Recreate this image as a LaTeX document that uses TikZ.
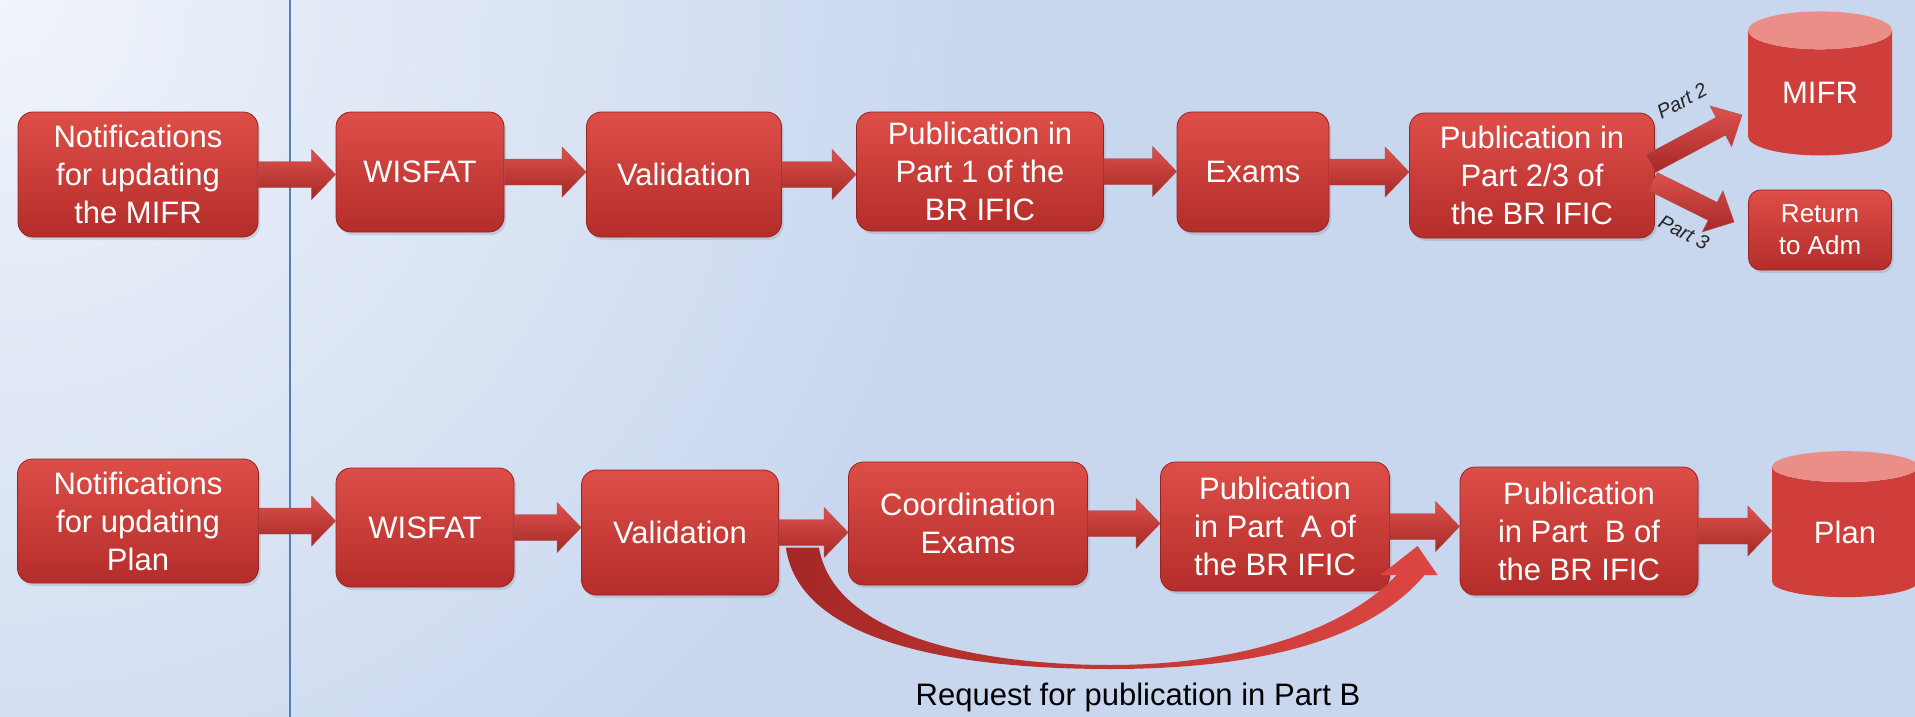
\documentclass[tikz,border=0pt]{standalone}
\usepackage{fontspec}
\setmainfont{Liberation Sans}
\usetikzlibrary{calc,shapes.geometric,shadows}
\definecolor{boxtop}{RGB}{222, 78, 72}
\definecolor{boxbottom}{RGB}{180, 45, 42}
\definecolor{boxline}{RGB}{150, 36, 34}
\definecolor{cylbody}{RGB}{207, 62, 58}
\definecolor{cyltop}{RGB}{236, 142, 136}
\definecolor{arrowtop}{RGB}{222, 82, 76}
\definecolor{arrowbottom}{RGB}{165, 40, 38}
\definecolor{curvedark}{RGB}{165, 40, 38}
\definecolor{curvelight}{RGB}{220, 70, 66}
\definecolor{bgcorner}{RGB}{240, 244, 251}
\definecolor{bgmid}{RGB}{200, 214, 238}
\definecolor{bglow}{RGB}{213, 223, 241}
\definecolor{divider}{RGB}{79, 129, 189}

\pgfdeclareradialshading{bgglow}{\pgfpoint{0bp}{0bp}}{color(0bp)=(bgcorner); color(12bp)=(bgmid); color(30bp)=(bgmid); color(50bp)=(bglow)}

% fat block arrow: shaft half width, head half width, from, to
\newcommand{\blockarrow}[4]{%
  \coordinate (ba-s) at (#3);
  \coordinate (ba-e) at (#4);
  \coordinate (ba-h) at ($(ba-e)!24pt!(ba-s)$);
  \shade[arrowshade] ($(ba-s)!#1pt!90:(ba-e)$) -- ($(ba-h)!#1pt!90:(ba-e)$)
       -- ($(ba-h)!#2pt!90:(ba-e)$) -- (ba-e) -- ($(ba-h)!#2pt!-90:(ba-e)$)
       -- ($(ba-h)!#1pt!-90:(ba-e)$) -- ($(ba-s)!#1pt!-90:(ba-e)$) -- cycle;
}

\begin{document}
\begin{tikzpicture}[x=1pt, y=-1pt,
    procbox/.style={rectangle, rounded corners=15pt, draw=boxline, line width=0.8pt,
                    top color=boxtop, bottom color=boxbottom, text=white, align=center,
                    inner sep=0pt, font=\fontsize{31}{38}\selectfont,
                    drop shadow={shadow xshift=2pt, shadow yshift=-3pt, opacity=0.25}},
    smallbox/.style={procbox, rounded corners=12pt, font=\fontsize{26}{32}\selectfont},
    store/.style={cylinder, shape border rotate=90, aspect=0.5, draw=none,
                  cylinder uses custom fill, cylinder body fill=cylbody,
                  cylinder end fill=cyltop, text=white, inner sep=0pt,
                  minimum width=144, minimum height=144,
                  font=\fontsize{31}{38}\selectfont},
    arrowshade/.style={top color=arrowtop, bottom color=arrowbottom, draw=boxline!80, line width=0.4pt},
    partlabel/.style={font=\itshape\fontsize{20}{24}\selectfont, text=black!85}]

    \useasboundingbox (0,0) rectangle (1915,717);
    \begin{scope}
      \clip (0,0) rectangle (1915,717);
      \shade[shading=bgglow] (0,0) circle (2100);
    \end{scope}
    \draw[divider, line width=1.6pt] (290,0) -- (290,717);

    % MIFR row
    \node[procbox, minimum width=240, minimum height=125] (n1)  at ( 138,174.5) {Notifications\\for updating\\the MIFR};
    \node[procbox, minimum width=168, minimum height=120] (w1)  at ( 420,172.0) {WISFAT};
    \node[procbox, minimum width=195, minimum height=125] (v1)  at ( 684,174.5) {Validation};
    \node[procbox, minimum width=247, minimum height=119] (p1)  at ( 980,171.5) {Publication in\\Part 1 of the\\BR IFIC};
    \node[procbox, minimum width=152, minimum height=120] (e1)  at (1253,172.0) {Exams};
    \node[procbox, minimum width=245, minimum height=125] (p23) at (1532,175.5) {Publication in\\Part 2/3 of\\the BR IFIC};
    \node[store] (mifr) at (1820,93) {MIFR};
    \node[smallbox, minimum width=143, minimum height=80] (ret) at (1820,230) {Return\\to Adm};

    % Plan row
    \node[procbox, minimum width=241, minimum height=124] (n2) at ( 138,521.0) {Notifications\\for updating\\Plan};
    \node[procbox, minimum width=178, minimum height=119] (w2) at ( 425,527.5) {WISFAT};
    \node[procbox, minimum width=197, minimum height=125] (v2) at ( 680,532.5) {Validation};
    \node[procbox, minimum width=239, minimum height=123] (c2) at ( 968,523.5) {Coordination\\Exams};
    \node[procbox, minimum width=229, minimum height=129] (pA) at (1275,526.5) {Publication\\in Part\ \ A of\\the BR IFIC};
    \node[procbox, minimum width=238, minimum height=128] (pB) at (1579,531.0) {Publication\\in Part\ \ B of\\the BR IFIC};
    \node[store, minimum height=146, minimum width=146] (plan) at (1845,532) {Plan};

    \blockarrow{13}{25}{n1.east}{w1.west |- n1.east}
    \blockarrow{13}{25}{w1.east}{v1.west |- w1.east}
    \blockarrow{13}{25}{v1.east}{p1.west |- v1.east}
    \blockarrow{13}{25}{p1.east}{e1.west |- p1.east}
    \blockarrow{13}{25}{e1.east}{p23.west |- e1.east}
    \blockarrow{10}{23}{$(p23.east)+(-4,-12)$}{$(mifr.center)+(-78,22)$}
    \blockarrow{10}{23}{$(p23.east)+(-2,6)$}{$(ret.west)+(-14,-8)$}

    \blockarrow{13}{25}{n2.east}{w2.west |- n2.east}
    \blockarrow{13}{25}{w2.east}{v2.west |- w2.east}
    \blockarrow{13}{25}{v2.east}{c2.west |- v2.east}
    \blockarrow{13}{25}{c2.east}{pA.west |- c2.east}
    \blockarrow{13}{25}{pA.east}{pB.west |- pA.east}
    \blockarrow{13}{25}{pB.east}{plan.west |- pB.east}

    \node[partlabel, rotate=28]  (lbl2) at (1682,101) {Part 2};
    \node[partlabel, rotate=-27] (lbl3) at (1684,232) {Part 3};

    % request for part B
    \coordinate (cs) at ($(v2.east)+(7,15)$);
    \coordinate (ct) at ($(pB.west)+(-42,15)$);
    \shade[left color=curvedark, right color=curvelight]
        (cs) .. controls (800,650) and (980,669) .. (1110,669)
             .. controls (1260,669) and (1370,640) .. ($(ct)+(7,29)$)
          -- ($(ct)+(-21,29)$)
             .. controls (1350,625) and (1250,665) .. (1110,665)
             .. controls (990,665) and (835,640) .. ($(cs)+(33,0)$) -- cycle;
    \fill[curvelight] ($(ct)+(-37,29)$) -- (ct) -- ($(ct)+(20,29)$) -- cycle;
    \node[font=\fontsize{31}{38}\selectfont] (req) at (1138,697) {Request for publication in Part B};
\end{tikzpicture}
\end{document}
